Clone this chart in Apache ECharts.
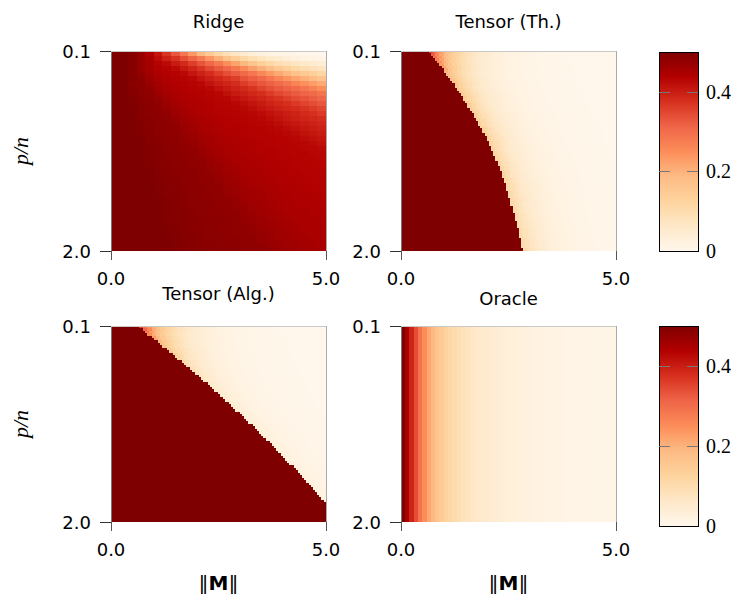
<!DOCTYPE html>
<html><head><meta charset="utf-8">
<script src="https://cdn.jsdelivr.net/npm/echarts@6/dist/echarts.min.js"></script>
<style>html,body{margin:0;padding:0;background:#fff}#c{width:735px;height:594px}#c path{shape-rendering:crispEdges}</style>
</head><body><div id="c"></div>
<script>
// ---------- data ----------
const panelTitles = ['Ridge', 'Tensor (Th.)', 'Tensor (Alg.)', 'Oracle'];
const xTickValues = [0, 5];
const xTickLabels = ['0.0', '5.0'];
const yTickValues = [0.1, 2.0];
const yTickLabels = ['0.1', '2.0'];
const cbTickValues = [0, 0.2, 0.4];
const cbTickLabels = ['0', '0.2', '0.4'];
const orrd = ['#fff7ec','#fee8c8','#fdd49e','#fdbb84','#fc8d59','#ef6548','#d7301f','#b30000','#7f0000'];

// Ridge: 25 columns of ||M|| x 40 rows of p/n
const ridgeX = [0.1,0.3,0.5,0.7,0.9,1.1,1.3,1.5,1.7,1.9,2.1,2.3,2.5,2.7,2.9,3.1,3.3,3.5,3.7,3.9,4.1,4.3,4.5,4.7,4.9];
const ridgeP = [0.124,0.171,0.219,0.266,0.314,0.361,0.409,0.456,0.504,0.551,0.599,0.646,0.694,0.741,0.789,0.836,0.884,0.931,0.979,1.026,1.074,1.121,1.169,1.216,1.264,1.311,1.359,1.406,1.454,1.501,1.549,1.596,1.644,1.691,1.739,1.786,1.834,1.881,1.929,1.976];
const ridgeValues = [
 [0.5,0.5,0.49,0.47,0.44,0.41,0.37,0.33,0.285,0.235,0.19,0.15,0.115,0.09,0.068,0.05,0.035,0.023,0.016,0.012,0.009,0.006,0.004,0.002,0.0],
 [0.5,0.5,0.49,0.47,0.45,0.422,0.395,0.373,0.339,0.312,0.279,0.239,0.206,0.172,0.141,0.114,0.092,0.076,0.06,0.047,0.035,0.024,0.018,0.015,0.012],
 [0.5,0.5,0.49,0.47,0.455,0.434,0.424,0.401,0.384,0.357,0.331,0.31,0.282,0.248,0.219,0.191,0.163,0.138,0.116,0.096,0.082,0.069,0.057,0.046,0.036],
 [0.5,0.5,0.49,0.47,0.455,0.44,0.433,0.425,0.405,0.389,0.371,0.346,0.326,0.308,0.284,0.254,0.227,0.204,0.179,0.156,0.135,0.116,0.099,0.086,0.074],
 [0.5,0.5,0.49,0.475,0.458,0.445,0.437,0.433,0.427,0.409,0.394,0.381,0.36,0.34,0.322,0.307,0.286,0.259,0.235,0.214,0.194,0.172,0.152,0.134,0.117],
 [0.5,0.5,0.49,0.482,0.465,0.45,0.441,0.436,0.433,0.428,0.411,0.397,0.386,0.373,0.359,0.334,0.319,0.306,0.286,0.262,0.24,0.221,0.203,0.186,0.165],
 [0.5,0.5,0.489,0.482,0.469,0.454,0.445,0.44,0.436,0.432,0.428,0.413,0.4,0.389,0.38,0.361,0.345,0.33,0.317,0.305,0.287,0.266,0.246,0.228,0.211],
 [0.5,0.5,0.491,0.484,0.477,0.461,0.45,0.443,0.439,0.435,0.432,0.429,0.415,0.403,0.392,0.383,0.37,0.354,0.339,0.326,0.315,0.304,0.288,0.268,0.249],
 [0.5,0.5,0.493,0.486,0.481,0.467,0.455,0.447,0.442,0.438,0.435,0.432,0.43,0.417,0.405,0.396,0.387,0.378,0.362,0.348,0.336,0.324,0.313,0.304,0.289],
 [0.5,0.5,0.495,0.487,0.482,0.474,0.461,0.451,0.445,0.441,0.437,0.434,0.432,0.43,0.418,0.407,0.398,0.39,0.382,0.37,0.356,0.343,0.332,0.321,0.312],
 [0.5,0.5,0.497,0.489,0.484,0.48,0.466,0.456,0.448,0.444,0.44,0.437,0.434,0.432,0.43,0.421,0.411,0.402,0.392,0.385,0.377,0.364,0.352,0.341,0.33],
 [0.5,0.5,0.499,0.49,0.485,0.481,0.472,0.461,0.452,0.446,0.442,0.439,0.436,0.434,0.432,0.43,0.42,0.411,0.402,0.394,0.387,0.381,0.37,0.361,0.349],
 [0.5,0.5,0.5,0.492,0.486,0.482,0.478,0.465,0.456,0.449,0.444,0.441,0.438,0.436,0.434,0.432,0.43,0.424,0.415,0.407,0.4,0.393,0.384,0.376,0.364],
 [0.5,0.5,0.5,0.493,0.488,0.483,0.481,0.471,0.461,0.453,0.447,0.444,0.44,0.438,0.436,0.433,0.432,0.43,0.422,0.413,0.405,0.397,0.391,0.385,0.38],
 [0.5,0.5,0.5,0.495,0.489,0.484,0.482,0.476,0.465,0.457,0.45,0.446,0.442,0.439,0.437,0.435,0.433,0.432,0.43,0.422,0.414,0.407,0.4,0.394,0.388],
 [0.5,0.5,0.5,0.496,0.49,0.486,0.482,0.48,0.469,0.461,0.452,0.448,0.445,0.441,0.439,0.437,0.435,0.433,0.432,0.43,0.424,0.415,0.408,0.401,0.395],
 [0.5,0.5,0.5,0.497,0.491,0.487,0.483,0.481,0.474,0.465,0.457,0.451,0.447,0.443,0.44,0.438,0.436,0.435,0.433,0.432,0.43,0.424,0.417,0.41,0.403],
 [0.5,0.5,0.5,0.499,0.492,0.488,0.484,0.482,0.477,0.468,0.461,0.454,0.449,0.446,0.443,0.44,0.438,0.436,0.435,0.433,0.432,0.43,0.424,0.417,0.41],
 [0.5,0.5,0.5,0.5,0.493,0.489,0.485,0.482,0.48,0.472,0.464,0.457,0.451,0.448,0.445,0.442,0.44,0.438,0.436,0.434,0.433,0.432,0.43,0.425,0.418],
 [0.5,0.5,0.5,0.5,0.494,0.49,0.486,0.483,0.481,0.477,0.467,0.46,0.454,0.45,0.446,0.444,0.441,0.439,0.437,0.436,0.434,0.433,0.431,0.43,0.425],
 [0.5,0.5,0.5,0.5,0.495,0.491,0.487,0.484,0.482,0.48,0.471,0.463,0.457,0.452,0.448,0.445,0.443,0.441,0.439,0.437,0.435,0.434,0.433,0.431,0.43],
 [0.5,0.5,0.5,0.5,0.496,0.492,0.488,0.485,0.483,0.481,0.475,0.467,0.46,0.455,0.45,0.447,0.444,0.442,0.44,0.438,0.437,0.435,0.434,0.433,0.431],
 [0.5,0.5,0.5,0.5,0.497,0.493,0.489,0.486,0.483,0.481,0.478,0.47,0.464,0.458,0.453,0.448,0.446,0.443,0.441,0.44,0.438,0.436,0.435,0.434,0.433],
 [0.5,0.5,0.5,0.5,0.5,0.493,0.49,0.486,0.484,0.482,0.48,0.474,0.467,0.461,0.455,0.451,0.448,0.445,0.443,0.441,0.439,0.438,0.436,0.435,0.434],
 [0.5,0.5,0.5,0.5,0.5,0.494,0.491,0.487,0.485,0.483,0.481,0.477,0.47,0.463,0.458,0.453,0.449,0.447,0.444,0.442,0.44,0.439,0.437,0.436,0.435],
 [0.5,0.5,0.5,0.5,0.5,0.495,0.491,0.488,0.485,0.483,0.481,0.48,0.472,0.466,0.46,0.456,0.451,0.448,0.446,0.443,0.441,0.44,0.438,0.437,0.436],
 [0.5,0.5,0.5,0.5,0.5,0.496,0.492,0.489,0.486,0.484,0.482,0.481,0.476,0.469,0.463,0.458,0.453,0.45,0.447,0.445,0.443,0.441,0.439,0.438,0.437],
 [0.5,0.5,0.5,0.5,0.5,0.497,0.493,0.49,0.487,0.484,0.483,0.481,0.478,0.472,0.466,0.46,0.456,0.452,0.449,0.446,0.444,0.442,0.441,0.439,0.438],
 [0.5,0.5,0.5,0.5,0.5,0.498,0.493,0.49,0.487,0.485,0.483,0.482,0.48,0.474,0.468,0.463,0.458,0.454,0.45,0.448,0.446,0.444,0.442,0.44,0.439],
 [0.5,0.5,0.5,0.5,0.5,0.499,0.494,0.491,0.488,0.486,0.484,0.482,0.481,0.477,0.471,0.465,0.46,0.456,0.452,0.449,0.447,0.445,0.443,0.442,0.44],
 [0.5,0.5,0.5,0.5,0.5,0.5,0.495,0.492,0.489,0.486,0.485,0.483,0.481,0.48,0.473,0.468,0.463,0.458,0.454,0.451,0.448,0.446,0.444,0.443,0.441],
 [0.5,0.5,0.5,0.5,0.5,0.5,0.496,0.492,0.49,0.487,0.485,0.483,0.482,0.48,0.476,0.47,0.465,0.46,0.456,0.453,0.449,0.447,0.446,0.444,0.442],
 [0.5,0.5,0.5,0.5,0.5,0.5,0.496,0.493,0.49,0.488,0.485,0.484,0.482,0.481,0.478,0.472,0.467,0.462,0.458,0.455,0.451,0.449,0.447,0.445,0.444],
 [0.5,0.5,0.5,0.5,0.5,0.5,0.497,0.493,0.491,0.488,0.486,0.484,0.483,0.481,0.48,0.475,0.47,0.465,0.46,0.457,0.453,0.45,0.448,0.446,0.445],
 [0.5,0.5,0.5,0.5,0.5,0.5,0.498,0.494,0.491,0.489,0.487,0.485,0.483,0.482,0.481,0.477,0.472,0.467,0.463,0.458,0.455,0.452,0.449,0.447,0.446],
 [0.5,0.5,0.5,0.5,0.5,0.5,0.499,0.495,0.492,0.489,0.487,0.485,0.484,0.482,0.481,0.48,0.475,0.469,0.465,0.461,0.457,0.453,0.45,0.448,0.447],
 [0.5,0.5,0.5,0.5,0.5,0.5,0.5,0.495,0.492,0.49,0.488,0.486,0.484,0.483,0.481,0.48,0.476,0.471,0.467,0.462,0.458,0.455,0.452,0.449,0.448],
 [0.5,0.5,0.5,0.5,0.5,0.5,0.5,0.496,0.493,0.491,0.488,0.486,0.485,0.483,0.482,0.481,0.479,0.473,0.468,0.464,0.46,0.457,0.454,0.451,0.448],
 [0.5,0.5,0.5,0.5,0.5,0.5,0.5,0.497,0.494,0.491,0.489,0.487,0.485,0.484,0.482,0.481,0.48,0.475,0.47,0.466,0.462,0.459,0.455,0.452,0.45],
 [0.5,0.5,0.5,0.5,0.5,0.5,0.5,0.497,0.494,0.492,0.489,0.487,0.485,0.484,0.483,0.481,0.481,0.478,0.473,0.468,0.464,0.46,0.457,0.454,0.451]
];

// Threshold panels: 100 columns of ||M|| x 80 rows of p/n
const fineX = [0.025,0.075,0.125,0.175,0.225,0.275,0.325,0.375,0.425,0.475,0.525,0.575,0.625,0.675,0.725,0.775,0.825,0.875,0.925,0.975,
 1.025,1.075,1.125,1.175,1.225,1.275,1.325,1.375,1.425,1.475,1.525,1.575,1.625,1.675,1.725,1.775,1.825,1.875,1.925,1.975,
 2.025,2.075,2.125,2.175,2.225,2.275,2.325,2.375,2.425,2.475,2.525,2.575,2.625,2.675,2.725,2.775,2.825,2.875,2.925,2.975,
 3.025,3.075,3.125,3.175,3.225,3.275,3.325,3.375,3.425,3.475,3.525,3.575,3.625,3.675,3.725,3.775,3.825,3.875,3.925,3.975,
 4.025,4.075,4.125,4.175,4.225,4.275,4.325,4.375,4.425,4.475,4.525,4.575,4.625,4.675,4.725,4.775,4.825,4.875,4.925,4.975];
const fineP = [0.112,0.136,0.159,0.183,0.207,0.231,0.254,0.278,0.302,0.326,0.349,0.373,0.397,0.421,0.444,0.468,0.492,0.516,0.539,0.563,
 0.587,0.611,0.634,0.658,0.682,0.706,0.729,0.753,0.777,0.801,0.824,0.848,0.872,0.896,0.919,0.943,0.967,0.991,1.014,1.038,
 1.062,1.086,1.109,1.133,1.157,1.181,1.204,1.228,1.252,1.276,1.299,1.323,1.347,1.371,1.394,1.418,1.442,1.466,1.489,1.513,
 1.537,1.561,1.584,1.608,1.632,1.656,1.679,1.703,1.727,1.751,1.774,1.798,1.822,1.846,1.869,1.893,1.917,1.941,1.964,1.988];
const darkValue = 0.5;
// ||M|| where the saturated region ends, per row of p/n
const thBoundary = [0.66,0.70,0.76,0.80,0.85,0.89,0.94,0.98,1.02,1.06,1.11,1.15,1.19,1.23,1.27,1.31,1.35,1.39,1.43,1.47,
 1.50,1.54,1.57,1.61,1.64,1.68,1.71,1.75,1.78,1.82,1.85,1.89,1.91,1.95,1.98,2.00,2.03,2.05,2.09,2.11,
 2.14,2.16,2.19,2.21,2.24,2.26,2.28,2.30,2.33,2.35,2.37,2.39,2.41,2.43,2.45,2.47,2.49,2.51,2.52,2.54,
 2.55,2.57,2.59,2.61,2.62,2.64,2.65,2.67,2.68,2.70,2.71,2.73,2.74,2.76,2.77,2.79,2.79,2.81,2.82,2.84];
const thEdgeValue = [0.36,0.32,0.29,0.27,0.25,0.23,0.22,0.205,0.195,0.185,0.178,0.172,0.167,0.162,0.158,0.154,0.15,0.147,0.144,0.141,
 0.139,0.137,0.135,0.133,0.131,0.13,0.129,0.128,0.127,0.126,0.125,0.124,0.123,0.122,0.121,0.12,0.119,0.118,0.117,0.116,
 0.115,0.115,0.114,0.114,0.113,0.113,0.112,0.112,0.111,0.111,0.11,0.11,0.109,0.109,0.108,0.108,0.107,0.107,0.106,0.106,
 0.105,0.105,0.104,0.104,0.103,0.103,0.102,0.102,0.101,0.101,0.1,0.1,0.1,0.1,0.1,0.1,0.1,0.1,0.1,0.1];
const algBoundary = [0.66,0.73,0.80,0.87,0.94,1.01,1.08,1.15,1.22,1.29,1.36,1.43,1.50,1.57,1.64,1.70,1.77,1.84,1.90,1.97,
 2.03,2.10,2.16,2.23,2.29,2.36,2.42,2.48,2.55,2.61,2.67,2.73,2.80,2.86,2.92,2.98,3.04,3.10,3.16,3.22,
 3.28,3.34,3.39,3.45,3.51,3.57,3.62,3.68,3.74,3.79,3.85,3.90,3.96,4.01,4.07,4.12,4.17,4.23,4.28,4.33,
 4.38,4.44,4.49,4.54,4.59,4.64,4.69,4.74,4.79,4.84,4.89,4.93,4.98,5.03,5.10,5.10,5.10,5.10,5.10,5.10];
const algEdgeValue = [0.35,0.31,0.28,0.25,0.23,0.21,0.19,0.175,0.16,0.15,0.14,0.13,0.12,0.112,0.105,0.098,0.092,0.086,0.081,0.076,
 0.072,0.068,0.064,0.061,0.058,0.055,0.053,0.051,0.049,0.047,0.045,0.043,0.042,0.041,0.04,0.039,0.038,0.037,0.036,0.035,
 0.034,0.034,0.033,0.033,0.032,0.032,0.031,0.031,0.03,0.03,0.029,0.029,0.028,0.028,0.027,0.027,0.026,0.026,0.025,0.025,
 0.025,0.024,0.024,0.024,0.023,0.023,0.023,0.022,0.022,0.022,0.021,0.021,0.021,0.02,0.02,0.02,0.02,0.02,0.02,0.02];
// relative fall-off right of the boundary, per 0.1 of ||M||
const tailFalloff = [1.0,0.82,0.68,0.57,0.48,0.41,0.35,0.30,0.26,0.22,0.19,0.165,0.145,0.125,0.11,0.095,0.083,0.072,0.063,0.055,0.048,0.042,0.036,0.031,0.027,0.023,0.020,0.017,0.014,0.012,0.010];

// Oracle: profile along ||M|| (same for every p/n)
const oracleX = [0.05,0.15,0.25,0.35,0.45,0.55,0.65,0.75,0.85,0.95,1.05,1.15,1.25,1.35,1.45,1.55,1.65,1.75,1.85,1.95,2.05,2.15,2.25,2.35,2.45,2.55,2.65,2.75,2.85,2.95,3.05,3.15,3.25,3.35,3.45,3.55,3.65,3.75,3.85,3.95,4.05,4.15,4.25,4.35,4.45,4.55,4.65,4.75,4.85,4.95];
const oracleRows = ['0.1-2.0'];
const oracleProfile = [0.50,0.45,0.39,0.34,0.29,0.25,0.215,0.19,0.165,0.145,0.13,0.115,0.102,0.091,0.082,0.074,0.067,0.061,0.056,0.051,0.047,0.044,0.04,0.037,0.034,0.031,0.029,0.027,0.025,0.023,0.021,0.02,0.019,0.018,0.017,0.016,0.015,0.014,0.013,0.012,0.012,0.011,0.011,0.01,0.01,0.009,0.009,0.008,0.008,0.008];

// ---------- build tables ----------
function matrixCells(m) {
  const out = [];
  m.forEach((row, i) => row.forEach((v, j) => out.push([j, i, v])));
  return out;
}
function thresholdCells(bound, edge) {
  const out = [];
  for (let i = 0; i < fineP.length; i++) {
    let first = -1;
    for (let j = 0; j < fineX.length; j++) {
      let v;
      if (fineX[j] < bound[i]) v = darkValue;
      else {
        if (first < 0) first = j;
        const k = Math.floor((j - first) / 2);
        v = edge[i] * (k < tailFalloff.length ? tailFalloff[k] : 0);
      }
      out.push([j, i, v]);
    }
  }
  return out;
}
const ridgeCells = matrixCells(ridgeValues);
const thCells = thresholdCells(thBoundary, thEdgeValue);
const algCells = thresholdCells(algBoundary, algEdgeValue);
const oracleCells = oracleProfile.map((v, j) => [j, 0, v]);

// ---------- layout ----------
const SANS = 'DejaVu Sans';
const panelRects = [
  {left:111, top:51, width:215, height:200},
  {left:401, top:51, width:215, height:200},
  {left:111, top:326, width:215, height:200},
  {left:401, top:326, width:215, height:200}
];
const cbRects = [
  {left:659, top:52, width:39, height:199},
  {left:659, top:326, width:39, height:200}
];
const titleGaps = [21, 21, 24, 19];

function cbGradient() {
  return new echarts.graphic.LinearGradient(0, 1, 0, 0,
    orrd.map((c, i) => ({offset: i / (orrd.length - 1), color: c})));
}

const grid = panelRects.map(r => Object.assign({}, r))
  .concat(cbRects.map(r => Object.assign({show:true, borderColor:'#000', borderWidth:1, backgroundColor: cbGradient()}, r)));

const xAxis = [], yAxis = [];
const catX = [ridgeX, fineX, fineX, oracleX];
const catY = [ridgeP, fineP, fineP, oracleRows];
for (let p = 0; p < 4; p++) {
  const bottomRow = p >= 2;
  xAxis.push({type:'category', gridIndex:p, data:catX[p], show:false});
  xAxis.push({
    type:'value', gridIndex:p, position:'bottom', min:0, max:5, interval:5, z:10,
    axisLine:{show:false}, splitLine:{show:false},
    axisTick:{show:true, length:9, lineStyle:{color:'#555'}},
    axisLabel:{margin:18, fontFamily:SANS, fontSize:18, color:'#000',
      formatter: v => { const k = xTickValues.indexOf(v); return k >= 0 ? xTickLabels[k] : ''; }},
    name: bottomRow ? '{b|\u2016}{m|M}{b|\u2016}' : '',
    nameLocation:'middle', nameGap:51,
    nameTextStyle:{color:'#000', rich:{
      b:{fontFamily:'DejaVu Serif', fontSize:20, color:'#000'},
      m:{fontFamily:SANS, fontWeight:'bold', fontSize:20, color:'#000'}}}
  });
  xAxis.push({
    type:'value', gridIndex:p, position:'top', min:0, max:5, z:10,
    axisLine:{show:true, lineStyle:{color:'#c8c8c8', width:1}},
    axisTick:{show:false}, axisLabel:{show:false}, splitLine:{show:false},
    name: panelTitles[p], nameLocation:'middle', nameGap: titleGaps[p],
    nameTextStyle:{fontFamily:SANS, fontSize:18, color:'#000'}
  });
  yAxis.push({type:'category', gridIndex:p, data:catY[p], inverse:true, show:false});
  yAxis.push({
    type:'value', gridIndex:p, position:'left', min:0.1, max:2.0, inverse:true, z:10,
    axisLine:{show:true, lineStyle:{color:'#777', width:1}}, splitLine:{show:false},
    axisTick:{show:true, length:11, customValues:yTickValues, lineStyle:{color:'#333'}},
    axisLabel:{margin:20, customValues:yTickValues, fontFamily:SANS, fontSize:18, color:'#000',
      formatter: v => { const k = yTickValues.findIndex(t => Math.abs(t - v) < 1e-9); return k >= 0 ? yTickLabels[k] : ''; }},
    name: (p % 2 === 0) ? 'p/n' : '', nameLocation:'middle', nameGap:80, nameRotate:90,
    nameTextStyle:{fontFamily:'Liberation Serif', fontStyle:'italic', fontSize:22, color:'#000'}
  });
  yAxis.push({
    type:'value', gridIndex:p, position:'right', min:0.1, max:2.0, inverse:true, z:10,
    axisLine:{show:true, lineStyle:{color:'#aaa', width:1}},
    axisTick:{show:false}, axisLabel:{show:false}, splitLine:{show:false}
  });
}
for (let c = 0; c < 2; c++) {
  const g = 4 + c;
  xAxis.push({type:'value', gridIndex:g, min:0, max:1, show:false});
  yAxis.push({
    type:'value', gridIndex:g, position:'right', min:0, max:0.5, interval:0.2, z:10,
    axisLine:{show:false}, axisTick:{show:false},
    splitLine:{show:true, showMinLine:false, showMaxLine:false,
      lineStyle:{color:'#777', width:1, type:[11, 17]}},
    axisLabel:{margin:8, fontFamily:'Liberation Serif', fontSize:20, color:'#000', showMaxLabel:false,
      formatter: v => { const k = cbTickValues.findIndex(t => Math.abs(t - v) < 1e-9); return k >= 0 ? cbTickLabels[k] : ''; }}
  });
}

const seriesData = [ridgeCells, thCells, algCells, oracleCells];
const series = seriesData.map((d, p) => ({
  type:'heatmap', xAxisIndex:3 * p, yAxisIndex:3 * p, data:d,
  progressive:0, emphasis:{disabled:true}, itemStyle:{borderWidth:0}
}));

const chart = echarts.init(document.getElementById('c'), null, {renderer:'svg'});
chart.setOption({
  animation:false,
  backgroundColor:'#fff',
  grid, xAxis, yAxis,
  visualMap:{type:'continuous', show:false, min:0, max:0.5, seriesIndex:[0,1,2,3], inRange:{color:orrd}},
  series
});
</script></body></html>
